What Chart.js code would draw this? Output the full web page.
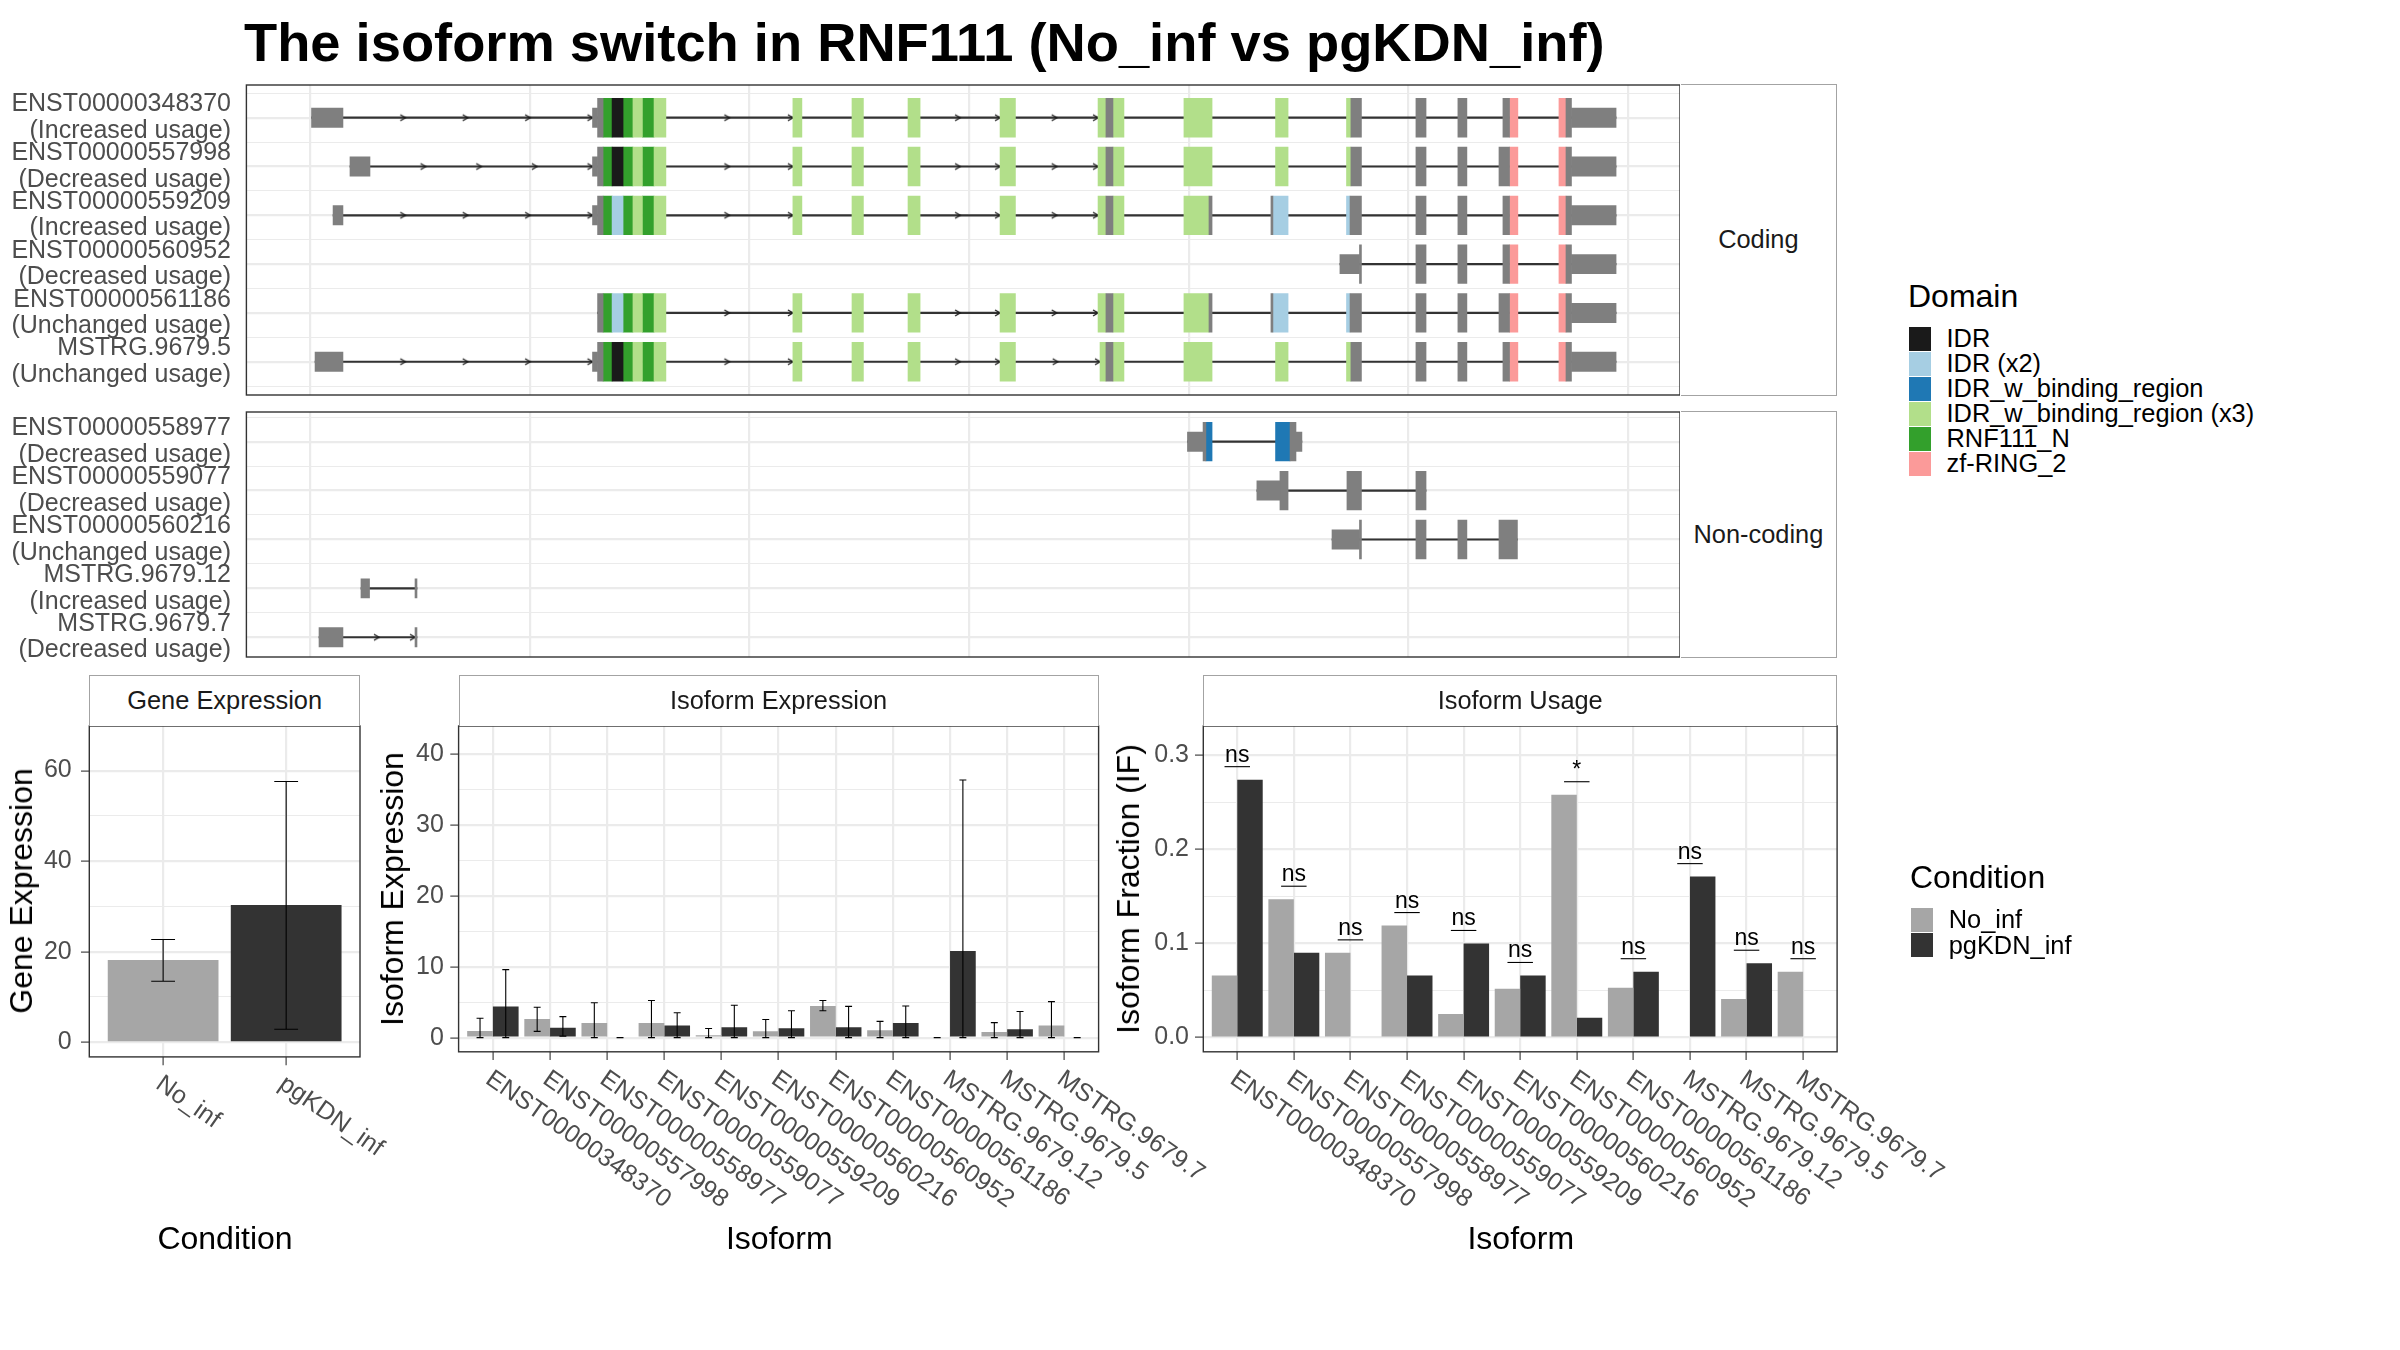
<!DOCTYPE html>
<html>
<head>
<meta charset="utf-8">
<title>The isoform switch in RNF111</title>
<script src="https://cdn.jsdelivr.net/npm/chart.js@4/dist/chart.umd.min.js"></script>
<style>
  html, body { margin:0; padding:0; background:#ffffff; }
  #root { position:relative; width:2400px; height:1350px; overflow:hidden; background:#ffffff;
          font-family:'Liberation Sans', Arial, Helvetica, sans-serif; }
  #root canvas { position:absolute; }
  .txt { position:absolute; white-space:nowrap; line-height:1; }
  .strip { position:absolute; box-sizing:border-box; background:#ffffff; border:1px solid #a3a3a3;
           display:flex; align-items:center; justify-content:center; color:#1a1a1a;
           font-size:25.4px; line-height:1; white-space:nowrap; }
  .key { position:absolute; }
</style>
</head>
<body>
<div id="root"></div>
<script>
// ======================= DATA =======================
const chartTitle = 'The isoform switch in RNF111 (No_inf vs pgKDN_inf)';

const conditions = ['No_inf', 'pgKDN_inf'];

// Gene expression: mean and error-bar limits
const geneExpression     = [18.2, 30.3];
const geneExpressionLow  = [13.5, 2.9];
const geneExpressionHigh = [22.7, 57.6];

const isoforms = ['ENST00000348370', 'ENST00000557998', 'ENST00000558977', 'ENST00000559077',
                  'ENST00000559209', 'ENST00000560216', 'ENST00000560952', 'ENST00000561186',
                  'MSTRG.9679.12', 'MSTRG.9679.5', 'MSTRG.9679.7'];

// Isoform expression
const isoExpNoInf     = [0.95, 2.63, 2.07, 2.07, 0.34, 0.90, 4.47, 1.06, 0.00, 0.78, 1.73];
const isoExpNoInfLow  = [0.00, 0.89, 0.00, 0.00, 0.00, 0.00, 3.80, 0.00, 0.00, 0.00, 0.00];
const isoExpNoInfHigh = [2.74, 4.30, 4.92, 5.25, 1.28, 2.57, 5.25, 2.29, 0.00, 2.12, 5.08];
const isoExpKDN       = [4.41, 1.40, 0.00, 1.73, 1.45, 1.34, 1.45, 2.07, 12.23, 1.17, 0.00];
const isoExpKDNLow    = [0.00, 0.22, 0.00, 0.00, 0.00, 0.00, 0.00, 0.00, 0.00, 0.00, 0.00];
const isoExpKDNHigh   = [9.60, 2.96, 0.00, 3.52, 4.58, 3.80, 4.41, 4.47, 36.37, 3.69, 0.00];

// Isoform usage (IF) and significance
const isoUsageNoInf  = [0.066, 0.147, 0.090, 0.119, 0.025, 0.052, 0.258, 0.053, 0.000, 0.041, 0.070];
const isoUsageKDN    = [0.274, 0.090, 0.000, 0.066, 0.100, 0.066, 0.021, 0.070, 0.171, 0.079, 0.000];
const isoUsageSignif = ['ns', 'ns', 'ns', 'ns', 'ns', 'ns', '*', 'ns', 'ns', 'ns', 'ns'];

// Transcript structures (relative genomic coordinate, feature)
const U = 'UTR', C = 'CDS', IDR = 'IDR', IDR2 = 'IDR (x2)', IB = 'IDR_w_binding_region',
      IB3 = 'IDR_w_binding_region (x3)', RN = 'RNF111_N', ZF = 'zf-RING_2';
const domainNames = [IDR, IDR2, IB, IB3, RN, ZF];

const codingIsoforms = ['ENST00000348370', 'ENST00000557998', 'ENST00000559209',
                        'ENST00000560952', 'ENST00000561186', 'MSTRG.9679.5'];
const codingUsage = ['Increased usage', 'Decreased usage', 'Increased usage',
                     'Decreased usage', 'Unchanged usage', 'Unchanged usage'];
const nonCodingIsoforms = ['ENST00000558977', 'ENST00000559077', 'ENST00000560216',
                           'MSTRG.9679.12', 'MSTRG.9679.7'];
const nonCodingUsage = ['Decreased usage', 'Decreased usage', 'Unchanged usage',
                        'Increased usage', 'Decreased usage'];

const exons_ENST00000348370 = [
  [0.7, 15.0, U],
  [128.6, 130.9, U], [130.9, 133.4, C], [133.4, 137.5, RN], [137.5, 142.5, IDR], [142.5, 147.0, RN],
  [147.0, 151.3, IB3], [151.3, 156.6, RN], [156.6, 162.0, IB3],
  [219.8, 223.9, IB3], [246.7, 251.9, IB3], [272.2, 277.7, IB3], [314.1, 321.1, IB3],
  [358.7, 362.3, IB3], [362.3, 365.5, C], [365.5, 370.5, IB3],
  [397.8, 410.6, IB3], [439.5, 445.2, IB3],
  [471.8, 473.8, IB3], [473.8, 478.6, C],
  [503.4, 508.0, C], [522.5, 526.6, C],
  [543.0, 546.0, C], [546.0, 549.8, ZF],
  [568.5, 571.7, ZF], [571.7, 574.2, C], [574.2, 594.5, U]
];
const exons_ENST00000557998 = [
  [18.2, 27.3, U],
  [128.6, 130.9, U], [130.9, 133.4, C], [133.4, 137.5, RN], [137.5, 142.5, IDR], [142.5, 147.0, RN],
  [147.0, 151.3, IB3], [151.3, 156.6, RN], [156.6, 162.0, IB3],
  [219.8, 223.9, IB3], [246.7, 251.9, IB3], [272.2, 277.7, IB3], [314.1, 321.1, IB3],
  [358.7, 362.3, IB3], [362.3, 365.5, C], [365.5, 370.5, IB3],
  [397.8, 410.6, IB3], [439.5, 445.2, IB3],
  [471.8, 473.8, IB3], [473.8, 478.6, C],
  [503.4, 508.0, C], [522.5, 526.6, C],
  [541.2, 546.0, C], [546.0, 549.8, ZF],
  [568.5, 571.7, ZF], [571.7, 574.2, C], [574.2, 594.5, U]
];
const exons_ENST00000559209 = [
  [10.5, 15.0, U],
  [128.6, 130.9, U], [130.9, 133.4, C], [133.4, 137.5, RN], [137.5, 142.5, IDR2], [142.5, 147.0, RN],
  [147.0, 151.3, IB3], [151.3, 156.6, RN], [156.6, 162.0, IB3],
  [219.8, 223.9, IB3], [246.7, 251.9, IB3], [272.2, 277.7, IB3], [314.1, 321.1, IB3],
  [358.7, 362.3, IB3], [362.3, 365.5, C], [365.5, 370.5, IB3],
  [397.8, 409.2, IB3], [409.2, 410.6, C],
  [437.4, 438.3, C], [438.3, 445.2, IDR2],
  [471.8, 473.4, IDR2], [473.4, 478.6, C],
  [503.4, 508.0, C], [522.5, 526.6, C],
  [543.0, 546.0, C], [546.0, 549.8, ZF],
  [568.5, 571.7, ZF], [571.7, 574.2, C], [574.2, 594.5, U]
];
const exons_ENST00000560952 = [
  [468.8, 477.7, U], [477.7, 478.6, C],
  [503.4, 508.0, C], [522.5, 526.6, C],
  [543.0, 546.0, C], [546.0, 549.8, ZF],
  [568.5, 571.7, ZF], [571.7, 574.2, C], [574.2, 594.5, U]
];
const exons_ENST00000561186 = [
  [130.9, 133.4, C], [133.4, 137.5, RN], [137.5, 142.5, IDR2], [142.5, 147.0, RN],
  [147.0, 151.3, IB3], [151.3, 156.6, RN], [156.6, 162.0, IB3],
  [219.8, 223.9, IB3], [246.7, 251.9, IB3], [272.2, 277.7, IB3], [314.1, 321.1, IB3],
  [358.7, 362.3, IB3], [362.3, 365.5, C], [365.5, 370.5, IB3],
  [397.8, 409.2, IB3], [409.2, 410.6, C],
  [437.4, 438.3, C], [438.3, 445.2, IDR2],
  [471.8, 473.4, IDR2], [473.4, 478.6, C],
  [503.4, 508.0, C], [522.5, 526.6, C],
  [541.2, 546.0, C], [546.0, 549.8, ZF],
  [568.5, 571.7, ZF], [571.7, 574.2, C], [574.2, 594.5, U]
];
const exons_MSTRG_9679_5 = [
  [2.3, 15.0, U],
  [128.6, 130.9, U], [130.9, 133.4, C], [133.4, 137.5, RN], [137.5, 142.5, IDR], [142.5, 147.0, RN],
  [147.0, 151.3, IB3], [151.3, 156.6, RN], [156.6, 162.0, IB3],
  [219.8, 223.9, IB3], [246.7, 251.9, IB3], [272.2, 277.7, IB3], [314.1, 321.1, IB3],
  [359.6, 362.3, IB3], [362.3, 365.5, C], [365.5, 370.5, IB3],
  [397.8, 410.6, IB3], [439.5, 445.2, IB3],
  [471.8, 473.8, IB3], [473.8, 478.6, C],
  [503.4, 508.0, C], [522.5, 526.6, C],
  [543.0, 546.0, C], [546.0, 549.8, ZF],
  [568.5, 571.7, ZF], [571.7, 574.2, C], [574.2, 594.5, U]
];
const exons_ENST00000558977 = [[399.4, 406.5, U], [406.5, 407.8, C], [407.8, 410.6, IB],
                               [439.5, 446.1, IB], [446.1, 448.8, C], [448.8, 451.5, U]];
const exons_ENST00000559077 = [[431.0, 441.5, U], [441.5, 445.2, C], [472.0, 478.6, C], [503.4, 508.0, C]];
const exons_ENST00000560216 = [[465.2, 477.7, U], [477.7, 478.6, C], [503.4, 508.0, C],
                               [522.5, 526.6, C], [541.2, 549.6, C]];
const exons_MSTRG_9679_12 = [[23.2, 27.1, U], [47.8, 48.7, U]];
const exons_MSTRG_9679_7  = [[4.1, 15.0, U], [47.8, 48.7, U]];

const codingStructures = [exons_ENST00000348370, exons_ENST00000557998, exons_ENST00000559209,
                          exons_ENST00000560952, exons_ENST00000561186, exons_MSTRG_9679_5];
const nonCodingStructures = [exons_ENST00000558977, exons_ENST00000559077, exons_ENST00000560216,
                             exons_MSTRG_9679_12, exons_MSTRG_9679_7];

// Axis ranges and ticks
const structureRange = [-28.95, 623.6];
const structureGrid = [0, 100, 200, 300, 400, 500, 600];
const codingRowRange = [0.33, 6.682];
const nonCodingRowRange = [0.393, 5.403];
const geneRange = [-3.22, 69.85];
const geneTicks = [0, 10, 20, 30, 40, 50, 60];
const isoExpRange = [-2.0, 44.0];
const isoExpTicks = [0, 5, 10, 15, 20, 25, 30, 35, 40];
const usageRange = [-0.0151, 0.331];
const usageTicks = [0, 0.05, 0.1, 0.15, 0.2, 0.25, 0.3];

// ======================= STYLE =======================
const FONT = "'Liberation Sans', Arial, Helvetica, sans-serif";
const GRID = '#ebebeb', AXIS_TXT = '#4d4d4d';
const AXIS_SIZE = 25.0, STRIP_SIZE = 25.4, TITLE_SIZE = 32;
const conditionColors = ['#a6a6a6', '#333333'];
const featureColors = { 'UTR': '#7f7f7f', 'CDS': '#7f7f7f', 'IDR': '#1a1a1a', 'IDR (x2)': '#a6cee3',
  'IDR_w_binding_region': '#1f78b4', 'IDR_w_binding_region (x3)': '#b2df8a',
  'RNF111_N': '#33a02c', 'zf-RING_2': '#fb9a99' };
const CDS_H = 38.7, UTR_H = 19.3;

Chart.defaults.font.family = FONT;
Chart.defaults.animation = false;

const root = document.getElementById('root');

function makeCanvas(left, top, width, height) {
  const c = document.createElement('canvas');
  c.width = width; c.height = height;
  c.style.left = left + 'px'; c.style.top = top + 'px';
  c.style.width = width + 'px'; c.style.height = height + 'px';
  root.appendChild(c);
  return c;
}

const framePlugin = {
  id: 'panelFrame',
  afterDraw(chart) {
    const a = chart.chartArea, ctx = chart.ctx;
    ctx.save();
    ctx.strokeStyle = '#333333'; ctx.lineWidth = 1.4;
    ctx.strokeRect(a.left, a.top, a.right - a.left, a.bottom - a.top);
    ctx.restore();
  }
};

const errorBarPlugin = {
  id: 'errorBars',
  afterDatasetsDraw(chart) {
    const ctx = chart.ctx, ys = chart.scales.y;
    chart.data.datasets.forEach((ds, d) => {
      if (!ds.errLow) return;
      const meta = chart.getDatasetMeta(d);
      meta.data.forEach((el, i) => {
        const x = el.x, half = el.width * ds.whisker / 2;
        const yl = ys.getPixelForValue(ds.errLow[i]), yh = ys.getPixelForValue(ds.errHigh[i]);
        ctx.save();
        ctx.strokeStyle = '#000000'; ctx.lineWidth = 1.1;
        ctx.beginPath();
        ctx.moveTo(x, yl); ctx.lineTo(x, yh);
        ctx.moveTo(x - half, yl); ctx.lineTo(x + half, yl);
        ctx.moveTo(x - half, yh); ctx.lineTo(x + half, yh);
        ctx.stroke();
        ctx.restore();
      });
    });
  }
};

const slantedLabelPlugin = {
  id: 'slantedLabels',
  afterDraw(chart) {
    const xs = chart.scales.x, ctx = chart.ctx, labels = chart.data.labels;
    const y0 = chart.chartArea.bottom + 14.5;
    ctx.save();
    ctx.fillStyle = AXIS_TXT; ctx.font = AXIS_SIZE + 'px ' + FONT;
    ctx.textAlign = 'left'; ctx.textBaseline = 'top';
    labels.forEach((lab, i) => {
      ctx.save();
      ctx.translate(xs.getPixelForValue(i) + 2.5, y0);
      ctx.rotate(35 * Math.PI / 180);
      ctx.fillText(lab, 0, 0);
      ctx.restore();
    });
    ctx.restore();
  }
};

const signifPlugin = {
  id: 'signif',
  afterDatasetsDraw(chart) {
    const ys = chart.scales.y, ctx = chart.ctx;
    const m0 = chart.getDatasetMeta(0), m1 = chart.getDatasetMeta(1);
    ctx.save();
    ctx.strokeStyle = '#000000'; ctx.fillStyle = '#000000'; ctx.lineWidth = 1.1;
    ctx.font = '23px ' + FONT; ctx.textAlign = 'center'; ctx.textBaseline = 'alphabetic';
    isoUsageSignif.forEach((lab, i) => {
      const y = ys.getPixelForValue(Math.max(isoUsageNoInf[i], isoUsageKDN[i]) + 0.0138);
      const x1 = m0.data[i].x, x2 = m1.data[i].x;
      ctx.beginPath(); ctx.moveTo(x1, y); ctx.lineTo(x2, y); ctx.stroke();
      ctx.fillText(lab, (x1 + x2) / 2, y - 5);
    });
    ctx.restore();
  }
};

function makeChevron() {
  const c = document.createElement('canvas');
  c.width = 14; c.height = 10;
  const g = c.getContext('2d');
  g.strokeStyle = '#1a1a1a'; g.lineWidth = 1.3;
  g.beginPath(); g.moveTo(2, 2); g.lineTo(7, 5); g.lineTo(2, 8); g.stroke();
  return c;
}
const chevron = makeChevron();

// direction arrows placed along each intron of a structure
function intronArrows(structures) {
  const pts = [];
  structures.forEach((segs, r) => {
    const s = segs.slice().sort((a, b) => a[0] - b[0]);
    for (let i = 1; i < s.length; i++) {
      const a = s[i - 1][1], b = s[i][0], len = b - a;
      if (len > 31) {
        const n = Math.max(2, Math.round(len / 28.2));
        for (let k = 1; k <= n; k++) pts.push({ x: a + k * len / n, y: r + 1 });
      }
    }
  });
  return pts;
}

function structureChart(panel, names, usage, structures, rowRange) {
  const M = 60;
  const h = panel.bottom - panel.top;
  const cv = makeCanvas(0, panel.top - M, Math.round(panel.right), Math.round(h + 2 * M));
  const feats = [U, C, ...domainNames];
  const datasets = [];
  feats.forEach(f => {
    const data = [];
    structures.forEach((segs, r) => segs.forEach(s => {
      if (s[2] === f) data.push({ x: [s[0], s[1]], y: r + 1 });
    }));
    if (data.length) datasets.push({ type: 'bar', data, backgroundColor: featureColors[f],
      barThickness: f === U ? UTR_H : CDS_H, grouped: false, borderWidth: 0, order: 1 });
  });
  datasets.push({ type: 'scatter', data: intronArrows(structures), pointStyle: chevron,
                  pointRadius: 4, order: 2 });
  datasets.push({ type: 'bar', grouped: false, backgroundColor: '#333333', barThickness: 1.5, order: 3,
    data: structures.map((segs, r) => ({
      x: [Math.min(...segs.map(s => s[0])), Math.max(...segs.map(s => s[1]))], y: r + 1 })) });

  return new Chart(cv, {
    type: 'bar',
    data: { datasets },
    options: {
      responsive: false, animation: false, indexAxis: 'y',
      layout: { autoPadding: false, padding: { top: M, left: 0, right: 0, bottom: 0 } },
      plugins: { legend: { display: false }, tooltip: { enabled: false } },
      scales: {
        x: { type: 'linear', min: structureRange[0], max: structureRange[1], offset: false,
             afterBuildTicks: s => { s.ticks = structureGrid.map(v => ({ value: v })); },
             afterFit: s => { s.height = M; },
             ticks: { display: false },
             grid: { color: GRID, lineWidth: 2.2, drawTicks: false, offset: false },
             border: { display: false } },
        y: { type: 'linear', reverse: true, min: rowRange[0], max: rowRange[1], offset: false,
             afterBuildTicks: s => {
               const t = [];
               for (let v = 0.5; v <= names.length + 0.5; v += 0.5)
                 if (v >= rowRange[0] && v <= rowRange[1]) t.push({ value: v });
               s.ticks = t;
             },
             afterFit: s => { s.width = panel.left; },
             ticks: { autoSkip: false, padding: 15.4, color: AXIS_TXT, font: { size: AXIS_SIZE, lineHeight: 1.06 },
                      callback: v => Number.isInteger(v) ? [names[v - 1], '(' + usage[v - 1] + ')'] : '' },
             grid: { color: GRID, lineWidth: c => Number.isInteger(c.tick.value) ? 2.2 : 1.1,
                     drawTicks: false, offset: false },
             border: { display: false } }
      }
    },
    plugins: [framePlugin]
  });
}

function barPanel(panel, cl, cw, cfg) {
  const M = 60;
  const top = panel.top - M;
  const ch = Math.round(1300 - top);
  const cv = makeCanvas(cl, top, cw, ch);
  const padRight = cl + cw - panel.right;
  const xHeight = ch - M - (panel.bottom - panel.top);
  const n = cfg.labels.length;
  return new Chart(cv, {
    type: 'bar',
    data: { labels: cfg.labels, datasets: cfg.datasets },
    options: {
      responsive: false, animation: false,
      layout: { autoPadding: false, padding: { top: M, right: padRight, left: 0, bottom: 0 } },
      plugins: { legend: { display: false }, tooltip: { enabled: false } },
      scales: {
        x: { type: 'linear', min: -0.6, max: n - 1 + 0.6, offset: false,
             afterBuildTicks: s => { s.ticks = cfg.labels.map((_, i) => ({ value: i })); },
             afterFit: s => { s.height = xHeight; },
             ticks: { display: false },
             grid: { color: GRID, lineWidth: 2.2, offset: false, drawTicks: true, tickLength: 8.3,
                     tickColor: '#333333', tickWidth: 1.1 },
             border: { display: false } },
        y: { type: 'linear', min: cfg.range[0], max: cfg.range[1], offset: false,
             afterBuildTicks: s => { s.ticks = cfg.ticks.map(v => ({ value: v })); },
             afterFit: s => { s.width = panel.left - cl; },
             ticks: { autoSkip: false, padding: cfg.tickPad, color: AXIS_TXT, font: { size: AXIS_SIZE },
                      callback: v => cfg.isMajor(v) ? cfg.fmt(v) : '' },
             grid: { color: GRID, lineWidth: c => cfg.isMajor(c.tick.value) ? 2.2 : 1.1,
                     drawTicks: true, tickLength: 8.3, tickWidth: 1.1, offset: false,
                     tickColor: c => cfg.isMajor(c.tick.value) ? '#333333' : 'rgba(0,0,0,0)' },
             border: { display: false } }
      }
    },
    plugins: [framePlugin, errorBarPlugin, slantedLabelPlugin].concat(cfg.extra || [])
  });
}

// ======================= LAYOUT =======================
const P = {
  coding:    { left: 246.4, right: 1680,   top: 85,    bottom: 395 },
  nonCoding: { left: 246.4, right: 1680,   top: 412,   bottom: 657.3 },
  gene:      { left: 89.3,  right: 360,    top: 725.9, bottom: 1056.8 },
  iso:       { left: 458.6, right: 1098.6, top: 725.9, bottom: 1051.7 },
  usage:     { left: 1203.3, right: 1837.1, top: 725.9, bottom: 1051.7 }
};

structureChart(P.coding, codingIsoforms, codingUsage, codingStructures, codingRowRange);
structureChart(P.nonCoding, nonCodingIsoforms, nonCodingUsage, nonCodingStructures, nonCodingRowRange);

barPanel(P.gene, 0, 430, {
  labels: conditions, range: geneRange, ticks: geneTicks, tickPad: 9.3,
  isMajor: v => v % 20 === 0, fmt: v => String(v),
  datasets: [{ data: conditions.map((c, i) => ({ x: i, y: geneExpression[i] })),
               backgroundColor: conditionColors, categoryPercentage: 1, barPercentage: 0.9,
               errLow: geneExpressionLow, errHigh: geneExpressionHigh, whisker: 0.215 }]
});

barPanel(P.iso, 380, 850, {
  labels: isoforms, range: isoExpRange, ticks: isoExpTicks, tickPad: 6.4,
  isMajor: v => v % 10 === 0, fmt: v => String(v),
  datasets: [
    { data: isoforms.map((s, i) => ({ x: i, y: isoExpNoInf[i] })), backgroundColor: conditionColors[0],
      categoryPercentage: 0.9, barPercentage: 1, errLow: isoExpNoInfLow, errHigh: isoExpNoInfHigh, whisker: 0.27 },
    { data: isoforms.map((s, i) => ({ x: i, y: isoExpKDN[i] })), backgroundColor: conditionColors[1],
      categoryPercentage: 0.9, barPercentage: 1, errLow: isoExpKDNLow, errHigh: isoExpKDNHigh, whisker: 0.27 }
  ]
});

barPanel(P.usage, 1150, 850, {
  labels: isoforms, range: usageRange, ticks: usageTicks, tickPad: 6,
  isMajor: v => Math.abs(v * 10 - Math.round(v * 10)) < 1e-9, fmt: v => v.toFixed(1),
  extra: [signifPlugin],
  datasets: [
    { data: isoforms.map((s, i) => ({ x: i, y: isoUsageNoInf[i] })), backgroundColor: conditionColors[0],
      categoryPercentage: 0.9, barPercentage: 1 },
    { data: isoforms.map((s, i) => ({ x: i, y: isoUsageKDN[i] })), backgroundColor: conditionColors[1],
      categoryPercentage: 0.9, barPercentage: 1 }
  ]
});

// ======================= TEXT / STRIPS / LEGENDS =======================
function addText(text, x, y, size, opts = {}) {
  const d = document.createElement('div');
  d.className = 'txt';
  d.textContent = text;
  d.style.left = x + 'px'; d.style.top = y + 'px'; d.style.fontSize = size + 'px';
  if (opts.bold) d.style.fontWeight = 'bold';
  d.style.color = opts.color || '#000000';
  if (opts.transform) d.style.transform = opts.transform;
  root.appendChild(d);
  return d;
}
function addStrip(text, left, top, width, height, noSide) {
  const d = document.createElement('div');
  d.className = 'strip';
  d.textContent = text;
  d.style.left = left + 'px'; d.style.top = top + 'px';
  d.style.width = width + 'px'; d.style.height = height + 'px';
  if (noSide === 'left') d.style.borderLeft = 'none';
  if (noSide === 'bottom') d.style.borderBottom = 'none';
  root.appendChild(d);
}
function addKey(color, left, top, w, h) {
  const d = document.createElement('div');
  d.className = 'key';
  d.style.left = left + 'px'; d.style.top = top + 'px';
  d.style.width = w + 'px'; d.style.height = h + 'px';
  d.style.background = color;
  root.appendChild(d);
}
const BL = 0.8465; // baseline offset for line-height:1

addText(chartTitle, 244, 61.7 - BL * 54.3, 54.3, { bold: true });

addStrip('Coding', 1680.7, 84.3, 156.4, 311.4, 'left');
addStrip('Non-coding', 1680.7, 411.3, 156.4, 246.7, 'left');
addStrip('Gene Expression', P.gene.left, 675, P.gene.right - P.gene.left, 51, 'bottom');
addStrip('Isoform Expression', P.iso.left, 675, P.iso.right - P.iso.left, 51, 'bottom');
addStrip('Isoform Usage', P.usage.left, 675, P.usage.right - P.usage.left, 51, 'bottom');

const xTitleTop = 1249.4 - BL * TITLE_SIZE;
addText('Condition', 225, xTitleTop, TITLE_SIZE, { transform: 'translateX(-50%)' });
addText('Isoform', 779.3, xTitleTop, TITLE_SIZE, { transform: 'translateX(-50%)' });
addText('Isoform', 1520.8, xTitleTop, TITLE_SIZE, { transform: 'translateX(-50%)' });

const rot = 'translate(-50%,-50%) rotate(-90deg)';
addText('Gene Expression', 20.8, 891.4, TITLE_SIZE, { transform: rot });
addText('Isoform Expression', 392, 888.8, TITLE_SIZE, { transform: rot });
addText('Isoform Fraction (IF)', 1127.5, 888.8, TITLE_SIZE, { transform: rot });

// Domain legend
addText('Domain', 1908, 306.7 - BL * TITLE_SIZE, TITLE_SIZE);
domainNames.forEach((name, k) => {
  addKey(featureColors[name], 1909, 327.3 + 25 * k, 21.6, 23.4);
  addText(name, 1946.5, 339 + 25 * k - STRIP_SIZE / 2, STRIP_SIZE);
});

// Condition legend
addText('Condition', 1910, 887.7 - BL * TITLE_SIZE, TITLE_SIZE);
conditions.forEach((name, k) => {
  addKey(conditionColors[k], 1911, 908 + 25.3 * k, 21.7, 23.5);
  addText(name, 1948.7, 920 + 25.3 * k - STRIP_SIZE / 2, STRIP_SIZE);
});
</script>
</body>
</html>
